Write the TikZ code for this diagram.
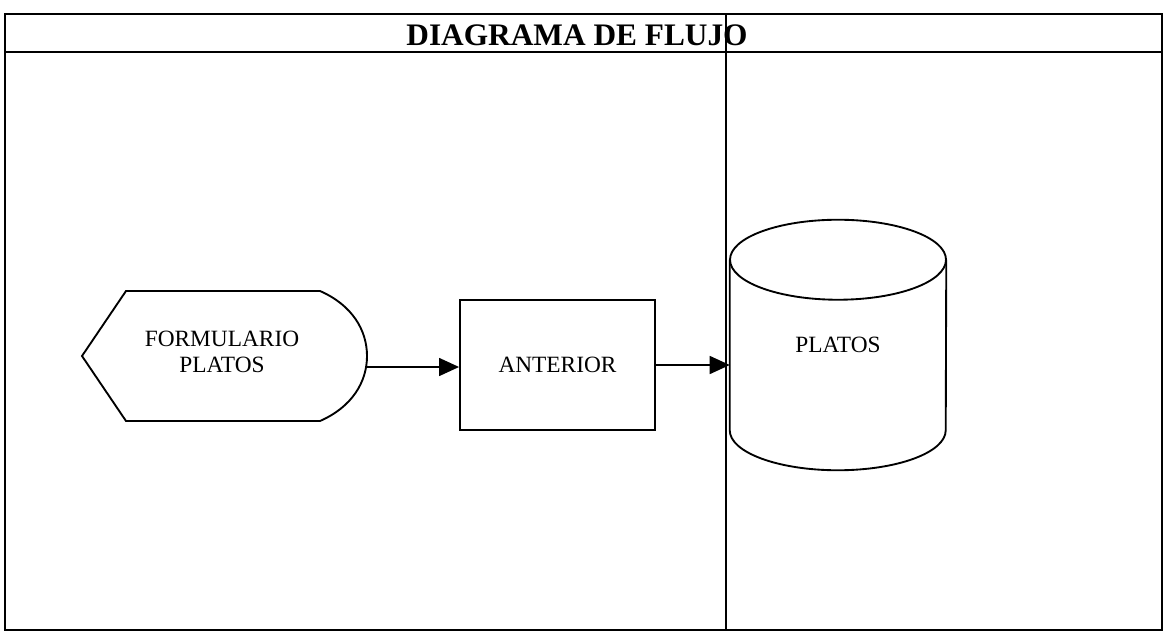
\documentclass[tikz,border=0pt]{standalone}
\usepackage{fontspec}
\setmainfont{Liberation Serif}
\usetikzlibrary{arrows.meta}

\begin{document}
\begin{tikzpicture}[x=0.75pt,y=-0.75pt,
  linea/.style={line width=1.4pt},
  flecha/.style={line width=1.1pt,-{Triangle[length=15pt,width=13.5pt]}},
  texto/.style={font=\fontsize{17.5}{20}\selectfont,align=center,inner sep=0pt}]
\useasboundingbox (0,0) rectangle (1171,635);
% marco y titulo
\draw[linea] (5,14) rectangle (1162,630);
\draw[linea] (5,52) -- (1162,52);
\node[font=\bfseries\fontsize{23.5}{26}\selectfont,inner sep=0pt] (titulo) at (577,35) {DIAGRAMA DE FLUJO};
\draw[line width=1.6pt] (726,14) -- (726,630);
% formulario
\node[texto] (form) at (222,352) {FORMULARIO\\PLATOS};
\draw[linea] (82,356) -- (126,291) -- (320,291) .. controls (352,305) and (367,330) .. (367,356)
  .. controls (367,382) and (352,407) .. (320,421) -- (126,421) -- cycle;
\coordinate (formout) at (366,367);
% proceso
\node[texto,draw,linea,minimum width=146.25pt,minimum height=97.5pt] (anterior) at (557.5,365) {ANTERIOR};
% almacenamiento
\node[texto,minimum width=162pt,minimum height=127.5pt] (platos) at (838,345) {PLATOS};
\draw[linea] (platos.north west) -- (platos.south west) arc (180:360:81pt and 30pt) -- (platos.north east);
\draw[linea] (platos.north) ellipse (81pt and 30pt);
% conectores
\draw[flecha] (formout) -- (formout -| anterior.west);
\draw[flecha] (anterior.east) -- (anterior.east -| platos.west);
\end{tikzpicture}
\end{document}
